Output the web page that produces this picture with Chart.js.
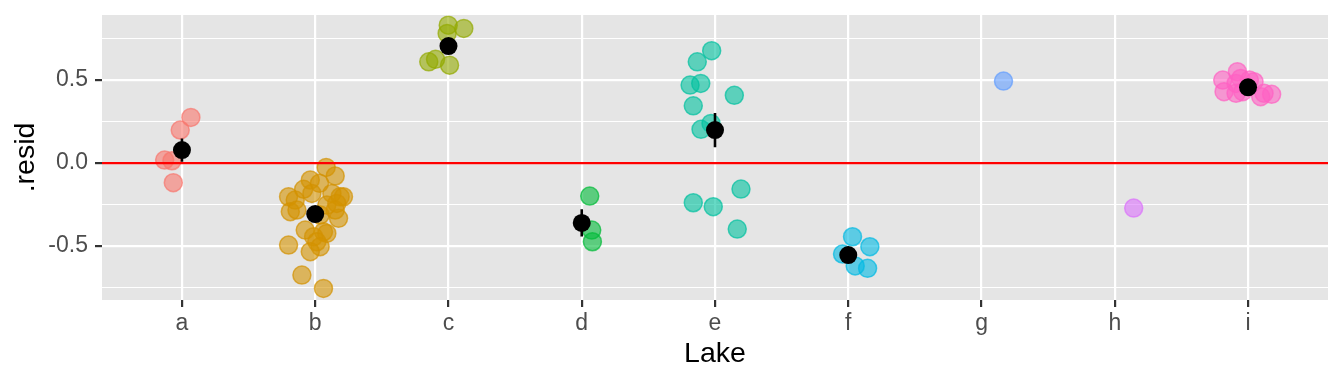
<!DOCTYPE html>
<html>
<head>
<meta charset="utf-8">
<script src="https://cdn.jsdelivr.net/npm/chart.js@4"></script>
<style>
html,body{margin:0;padding:0;background:#fff;}
canvas{display:block;}
</style>
</head>
<body>
<canvas id="c" width="1344" height="384"></canvas>
<script>
// ---- data ----
const lakes = ['a','b','c','d','e','f','g','h','i'];
const lakeColors = ['#F8766D','#D39200','#93AA00','#00BA38','#00C19F','#00B9E3','#619CFF','#DB72FB','#FF61C3'];

const residA = [0.275,0.199,0.018,0.014,-0.118];
const jitA   = [0.067,-0.013,-0.13,-0.075,-0.065];
const residB = [-0.026,-0.078,-0.102,-0.122,-0.158,-0.203,-0.223,-0.183,-0.183,-0.203,-0.203,-0.293,-0.283,-0.283,-0.333,-0.253,-0.404,-0.414,-0.424,-0.444,-0.474,-0.504,-0.534,-0.494,-0.675,-0.755,-0.313,-0.243];
const jitB   = [0.082,0.15,-0.037,0.032,-0.087,-0.2,-0.15,-0.025,0.125,0.187,0.212,-0.187,-0.137,0.15,0.175,0.087,-0.075,0.062,0.087,-0.012,0.012,0.037,-0.037,-0.2,-0.1,0.062,0.037,0.162];
const residC = [0.831,0.811,0.781,0.625,0.61,0.59];
const jitC   = [-0.002,0.115,-0.01,-0.097,-0.148,0.008];
const residD = [-0.199,-0.404,-0.474];
const jitD   = [0.06,0.075,0.08];
const residE = [0.677,0.61,0.47,0.48,0.408,0.345,0.239,0.203,-0.157,-0.239,-0.263,-0.398];
const jitE   = [-0.025,-0.133,-0.187,-0.107,0.145,-0.163,-0.03,-0.105,0.195,-0.163,-0.013,0.167];
const residF = [-0.444,-0.504,-0.548,-0.62,-0.634];
const jitF   = [0.032,0.162,-0.043,0.052,0.145];
const residG = [0.494];
const jitG   = [0.165];
const residH = [-0.271];
const jitH   = [0.142];
const residI = [0.5,0.55,0.43,0.48,0.5,0.43,0.40,0.414,0.42,0.49,0.51,0.42];
const jitI   = [-0.19,-0.08,-0.18,-0.09,0.01,-0.04,0.095,0.177,-0.09,0.045,-0.055,0.12];

// summary (mean ± se); lakes with a single observation show no summary
const lakeMeans = [0.078,-0.307,0.705,-0.361,0.199,-0.554,null,null,0.456];
const lakeSE    = [0.07,0.035,0.045,0.082,0.103,0.035,null,null,0.015];

const yTickLabels = ['-0.5','0.0','0.5'];
const refLine = 0;

// ---- build datasets ----
const residAll = [residA,residB,residC,residD,residE,residF,residG,residH,residI];
const jitAll   = [jitA,jitB,jitC,jitD,jitE,jitF,jitG,jitH,jitI];

function hexA(hex, a){
  const r=parseInt(hex.slice(1,3),16), g=parseInt(hex.slice(3,5),16), b=parseInt(hex.slice(5,7),16);
  return `rgba(${r},${g},${b},${a})`;
}

const datasets = [];
lakes.forEach((lk, i) => {
  datasets.push({
    type: 'scatter',
    label: lk,
    data: residAll[i].map((v, k) => ({x: i + jitAll[i][k], y: v})),
    backgroundColor: hexA(lakeColors[i], 0.6),
    borderColor: hexA(lakeColors[i], 0.7),
    borderWidth: 1.5,
    pointRadius: 9,
    order: 10
  });
});

datasets.push({
  type: 'line',
  label: 'zero',
  data: [{x: -0.6, y: refLine}, {x: lakes.length - 0.4, y: refLine}],
  borderColor: '#FF0000',
  borderWidth: 2.2,
  pointRadius: 0,
  order: 5
});

const errData = [];
lakes.forEach((lk, i) => {
  if (lakeSE[i] != null && lakeMeans[i] != null) {
    errData.push({x: i, y: lakeMeans[i] - lakeSE[i]});
    errData.push({x: i, y: lakeMeans[i] + lakeSE[i]});
  }
  errData.push({x: i, y: null});
});
datasets.push({
  type: 'line',
  label: 'se',
  data: errData,
  borderColor: '#000',
  borderWidth: 2.6,
  pointRadius: 0,
  spanGaps: false,
  order: 2
});

datasets.push({
  type: 'scatter',
  label: 'mean',
  data: lakeMeans.map((m, i) => ({x: i, y: m})).filter(p => p.y != null),
  backgroundColor: '#000',
  borderColor: '#000',
  borderWidth: 0,
  pointRadius: 9,
  order: 1
});

const panelBg = {
  id: 'panelBg',
  beforeDraw(chart) {
    const {ctx, chartArea: a} = chart;
    ctx.save();
    ctx.fillStyle = '#E5E5E5';
    ctx.fillRect(a.left, a.top, a.right - a.left, a.bottom - a.top);
    ctx.restore();
  }
};

const isMajor = v => Math.abs(v * 2 - Math.round(v * 2)) < 1e-6;
const FONT = "'Liberation Sans', Arial, sans-serif";

new Chart(document.getElementById('c'), {
  type: 'scatter',
  data: { datasets },
  plugins: [panelBg],
  options: {
    responsive: false,
    animation: false,
    devicePixelRatio: 1,
    layout: { padding: { left: 0, right: 16, top: 15, bottom: 0 } },
    plugins: { legend: { display: false }, tooltip: { enabled: false } },
    scales: {
      x: {
        type: 'linear',
        min: -0.6,
        max: lakes.length - 0.4,
        afterFit(s) { s.height = 84; s.paddingLeft = 0; s.paddingRight = 0; },
        ticks: {
          stepSize: 1,
          includeBounds: false,
          autoSkip: false,
          maxRotation: 0,
          padding: 3,
          color: '#4D4D4D',
          font: { family: FONT, size: 23 },
          callback: v => lakes[Math.round(v)] ?? ''
        },
        grid: {
          color: '#FFFFFF',
          lineWidth: 2.2,
          tickColor: '#333333',
          tickLength: 7,
          tickWidth: 2.2
        },
        border: { display: false },
        title: {
          display: true,
          text: 'Lake',
          color: '#000',
          font: { family: FONT, size: 28.5 },
          padding: { top: 0, bottom: 13 }
        }
      },
      y: {
        type: 'linear',
        min: -0.825,
        max: 0.892,
        afterFit(s) { s.width = 102; s.paddingTop = 0; s.paddingBottom = 0; },
        ticks: {
          stepSize: 0.25,
          includeBounds: false,
          padding: 7,
          color: '#4D4D4D',
          font: { family: FONT, size: 23 },
          callback: v => {
            if (!isMajor(v)) return '';
            const idx = Math.round(v * 2) + 1;
            return yTickLabels[idx] ?? '';
          }
        },
        grid: {
          color: '#FFFFFF',
          lineWidth: ctx => isMajor(ctx.tick.value) ? 2.2 : 1.1,
          tickColor: ctx => isMajor(ctx.tick.value) ? '#333333' : 'rgba(0,0,0,0)',
          tickLength: 7,
          tickWidth: 2.2
        },
        border: { display: false },
        title: {
          display: true,
          text: '.resid',
          color: '#000',
          font: { family: FONT, size: 28.5 },
          padding: { top: 9, bottom: 0 }
        }
      }
    }
  }
});
</script>
</body>
</html>
